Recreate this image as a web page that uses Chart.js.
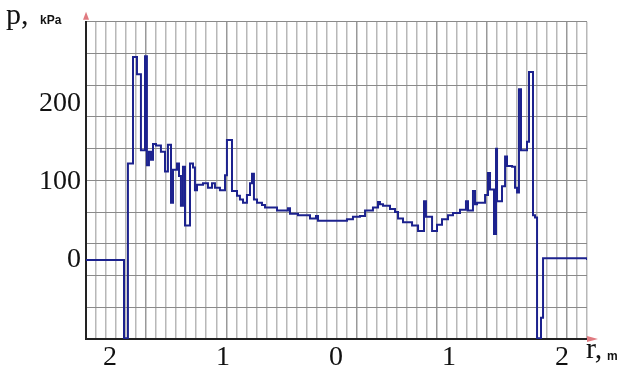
<!DOCTYPE html>
<html>
<head>
<meta charset="utf-8">
<script src="https://cdn.jsdelivr.net/npm/chart.js@4/dist/chart.umd.min.js"></script>
<style>
  html, body { margin: 0; padding: 0; background: #fff; }
  #wrap { position: relative; width: 622px; height: 367px; }
</style>
</head>
<body>
<div id="wrap"><canvas id="pChart" width="622" height="367"></canvas></div>
<script>
// radius, m (signed: left of centre negative) and pressure, kPa (step values)
const rM = [
  -2.212, -1.876, -1.841, -1.796, -1.761, -1.726, -1.690, -1.673, -1.655, -1.637,
  -1.619, -1.593, -1.549, -1.513, -1.487, -1.460, -1.442, -1.407, -1.389, -1.372,
  -1.354, -1.336, -1.292, -1.265, -1.248, -1.230, -1.177, -1.133, -1.097, -1.071,
  -1.027, -0.982, -0.965, -0.920, -0.876, -0.850, -0.823, -0.788, -0.761, -0.743,
  -0.726, -0.699, -0.655, -0.628, -0.522, -0.425, -0.407, -0.336, -0.230, -0.177,
  -0.159, 0.097, 0.150, 0.212, 0.257, 0.327, 0.372, 0.389, 0.416, 0.478,
  0.522, 0.549, 0.593, 0.673, 0.726, 0.779, 0.796, 0.850, 0.894, 0.938,
  0.991, 1.035, 1.097, 1.150, 1.168, 1.212, 1.230, 1.248, 1.319, 1.345,
  1.363, 1.398, 1.416, 1.425, 1.469, 1.496, 1.513, 1.558, 1.584, 1.602,
  1.619, 1.637, 1.690, 1.708, 1.743, 1.761, 1.779, 1.814, 1.832, 2.221
];
const pKPa = [
  0, -100, 123, 259, 237, 140, 260, 121, 138, 128,
  148, 146, 138, 113, 147, 73, 115, 123, 107, 69,
  119, 44, 123, 118, 89, 96, 98, 92, 98, 92,
  89, 108, 153, 88, 82, 77, 73, 83, 98, 110,
  77, 73, 70, 67, 63, 66, 59, 57, 53, 56,
  50, 52, 55, 56, 63, 67, 74, 71, 69, 65,
  61, 53, 48, 44, 37, 75, 55, 37, 45, 52,
  57, 60, 64, 75, 63, 88, 71, 73, 83, 111,
  90, 33, 142, 75, 94, 132, 120, 119, 92, 86,
  218, 140, 151, 240, 57, 54, -100, -74, 2, 0
];
const xTickVals = [-2, -1, 0, 1, 2];
const yTickVals = [0, 100, 200];
const xGridCount = 50;
const yGridCount = 10;
const darkerCols = [6, 14, 27, 35, 40, 48];

const serif = 'Liberation Serif';

const decor = {
  id: 'decor',
  afterDraw(chart) {
    const { ctx, chartArea: a } = chart;
    ctx.save();
    // arrow heads
    ctx.fillStyle = '#e07a80';
    ctx.beginPath();
    ctx.moveTo(a.left - 3, a.top - 2);
    ctx.lineTo(a.left + 3, a.top - 2);
    ctx.lineTo(a.left, a.top - 10);
    ctx.fill();
    ctx.beginPath();
    ctx.moveTo(a.right, a.bottom - 3);
    ctx.lineTo(a.right, a.bottom + 3);
    ctx.lineTo(a.right + 11, a.bottom);
    ctx.fill();
    // axis names
    ctx.fillStyle = '#111';
    ctx.textBaseline = 'alphabetic';
    ctx.font = '30px ' + serif;
    ctx.fillText('p,', 6, 24);
    ctx.fillText('r,', 586, 358);
    ctx.font = 'bold 12px "Liberation Sans"';
    ctx.fillText('kPa', 40, 24);
    ctx.fillText('m', 607, 360);
    ctx.restore();
  }
};

new Chart(document.getElementById('pChart'), {
  type: 'line',
  data: {
    datasets: [{
      xAxisID: 'x',
      yAxisID: 'y',
      data: rM.map((r, i) => ({ x: r, y: pKPa[i] })),
      stepped: true,
      borderColor: '#1c228e',
      borderWidth: 2,
      pointRadius: 0,
      fill: false
    }]
  },
  options: {
    responsive: false,
    animation: false,
    devicePixelRatio: 1,
    layout: { padding: { top: 15, right: 35, left: 0, bottom: 0 } },
    plugins: { legend: { display: false }, tooltip: { enabled: false } },
    scales: {
      x: {
        type: 'linear', position: 'bottom', min: -2.212, max: 2.221,
        grid: { display: false, drawTicks: false },
        border: { display: true, color: '#222', width: 2 },
        afterBuildTicks(s) { s.ticks = xTickVals.map(v => ({ value: v })); },
        ticks: {
          color: '#111', padding: 2, maxRotation: 0,
          font: { family: serif, size: 28 },
          callback: v => Math.abs(v)
        },
        afterFit(s) { s.height = 28; }
      },
      y: {
        type: 'linear', position: 'left', min: -101, max: 304,
        grid: { display: false, drawTicks: false },
        border: { display: true, color: '#222', width: 2 },
        afterBuildTicks(s) { s.ticks = yTickVals.map(v => ({ value: v })); },
        ticks: { color: '#111', padding: 5, font: { family: serif, size: 28 } },
        afterFit(s) { s.width = 86; }
      },
      xg: {
        type: 'linear', position: 'bottom', min: 0, max: xGridCount,
        ticks: { display: false, stepSize: 1 },
        grid: {
          drawTicks: false,
          color: c => darkerCols.includes(c.tick.value) ? '#999' : '#b8b8b8',
          lineWidth: 1.5
        },
        border: { display: false },
        afterFit(s) { s.height = 0; }
      },
      yg: {
        type: 'linear', position: 'left', min: 0, max: yGridCount,
        ticks: { display: false, stepSize: 1 },
        grid: { drawTicks: false, color: '#8a8a8a', lineWidth: 1 },
        border: { display: false },
        afterFit(s) { s.width = 0; }
      }
    }
  },
  plugins: [decor]
});
</script>
</body>
</html>
